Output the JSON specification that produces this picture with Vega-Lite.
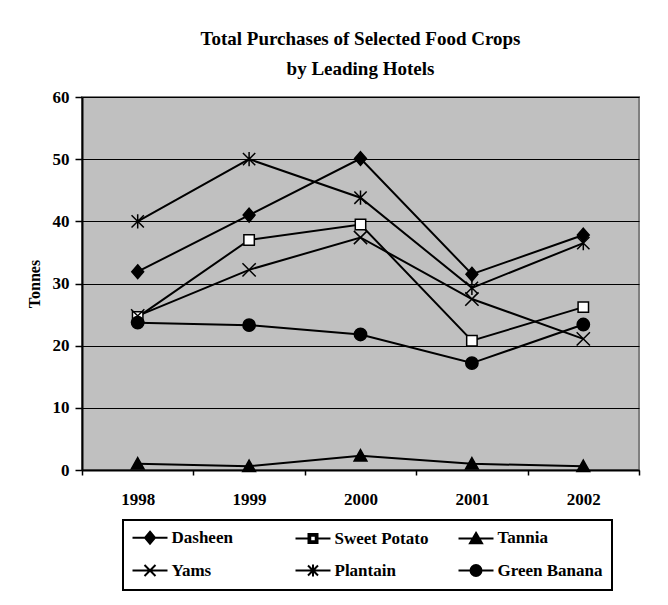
{
  "$schema": "https://vega.github.io/schema/vega-lite/v6.json",
  "width": 557,
  "height": 373,
  "autosize": {"type": "none"},
  "padding": {"left": 82, "top": 97, "right": 29, "bottom": 135},
  "background": "white",
  "title": {
    "text": ["Total Purchases of Selected Food Crops", "by Leading Hotels"],
    "font": "Liberation Serif",
    "fontSize": 19,
    "fontWeight": "bold",
    "color": "black",
    "lineHeight": 30,
    "anchor": "middle",
    "offset": 9
  },
  "data": {
    "values": [
      {"crop": "Dasheen", "year": "1998", "tonnes": 31.9},
      {"crop": "Dasheen", "year": "1999", "tonnes": 41.0},
      {"crop": "Dasheen", "year": "2000", "tonnes": 50.1},
      {"crop": "Dasheen", "year": "2001", "tonnes": 31.5},
      {"crop": "Dasheen", "year": "2002", "tonnes": 37.8},
      {"crop": "Sweet Potato", "year": "1998", "tonnes": 24.6},
      {"crop": "Sweet Potato", "year": "1999", "tonnes": 37.0},
      {"crop": "Sweet Potato", "year": "2000", "tonnes": 39.5},
      {"crop": "Sweet Potato", "year": "2001", "tonnes": 20.8},
      {"crop": "Sweet Potato", "year": "2002", "tonnes": 26.2},
      {"crop": "Tannia", "year": "1998", "tonnes": 1.0},
      {"crop": "Tannia", "year": "1999", "tonnes": 0.6},
      {"crop": "Tannia", "year": "2000", "tonnes": 2.3},
      {"crop": "Tannia", "year": "2001", "tonnes": 1.0},
      {"crop": "Tannia", "year": "2002", "tonnes": 0.6},
      {"crop": "Yams", "year": "1998", "tonnes": 24.8},
      {"crop": "Yams", "year": "1999", "tonnes": 32.2},
      {"crop": "Yams", "year": "2000", "tonnes": 37.4},
      {"crop": "Yams", "year": "2001", "tonnes": 27.5},
      {"crop": "Yams", "year": "2002", "tonnes": 21.1},
      {"crop": "Plantain", "year": "1998", "tonnes": 40.0},
      {"crop": "Plantain", "year": "1999", "tonnes": 50.0},
      {"crop": "Plantain", "year": "2000", "tonnes": 43.8},
      {"crop": "Plantain", "year": "2001", "tonnes": 29.3},
      {"crop": "Plantain", "year": "2002", "tonnes": 36.5},
      {"crop": "Green Banana", "year": "1998", "tonnes": 23.7},
      {"crop": "Green Banana", "year": "1999", "tonnes": 23.3},
      {"crop": "Green Banana", "year": "2000", "tonnes": 21.8},
      {"crop": "Green Banana", "year": "2001", "tonnes": 17.2},
      {"crop": "Green Banana", "year": "2002", "tonnes": 23.4}
    ]
  },
  "encoding": {
    "x": {
      "field": "year",
      "type": "ordinal",
      "scale": {"type": "band", "paddingInner": 0, "paddingOuter": 0},
      "axis": {
        "title": null,
        "labelAngle": 0,
        "tickBand": "extent",
        "grid": false,
        "tickSize": 5,
        "labelPadding": 16
      }
    },
    "y": {
      "field": "tonnes",
      "type": "quantitative",
      "scale": {"domain": [0, 60], "nice": false, "zero": true},
      "axis": {
        "title": "Tonnes",
        "values": [0, 10, 20, 30, 40, 50, 60],
        "grid": true,
        "gridColor": "black",
        "gridWidth": 1,
        "gridOpacity": 1,
        "tickSize": 7,
        "labelPadding": 6,
        "titlePadding": 10
      }
    }
  },
  "layer": [
    {
      "mark": {"type": "line", "color": "black", "strokeWidth": 2},
      "encoding": {"detail": {"field": "crop"}}
    },
    {
      "mark": {"type": "point", "filled": true, "stroke": "black", "strokeWidth": 1.5, "size": 90, "opacity": 1},
      "encoding": {
        "shape": {
          "field": "crop",
          "scale": {
            "domain": ["Dasheen", "Sweet Potato", "Tannia", "Yams", "Plantain", "Green Banana"],
            "range": [
              "M0,-1.45L1.25,0L0,1.45L-1.25,0Z",
              "M-1.1,-1.1H1.1V1.1H-1.1Z",
              "M0,-1.3L1.35,1.1L-1.35,1.1Z",
              "M-1.4,-1.4L1.4,1.4M-1.4,1.4L1.4,-1.4",
              "M-1.3,-1.3L1.3,1.3M-1.3,1.3L1.3,-1.3M0,-1.5V1.5",
              "M1.3,0A1.3,1.3,0,1,1,-1.3,0A1.3,1.3,0,1,1,1.3,0Z"
            ]
          },
          "legend": null
        },
        "fill": {
          "field": "crop",
          "scale": {
            "domain": ["Dasheen", "Sweet Potato", "Tannia", "Yams", "Plantain", "Green Banana"],
            "range": ["black", "white", "black", "black", "black", "black"]
          },
          "legend": null
        }
      }
    },
    {
      "transform": [{"filter": "false"}],
      "mark": {"type": "point", "filled": true, "color": "black", "strokeWidth": 2, "opacity": 1},
      "encoding": {
        "stroke": {
          "field": "crop",
          "scale": {
            "domain": ["Dasheen", "Sweet Potato", "Tannia", "Yams", "Plantain", "Green Banana"],
            "range": ["black", "black", "black", "black", "black", "black"]
          },
          "legend": {
            "title": null,
            "orient": "none",
            "legendX": 41,
            "legendY": 423,
            "direction": "horizontal",
            "columns": 3,
            "gridAlign": "all",
            "rowPadding": 12,
            "columnPadding": 14,
            "padding": 9,
            "strokeColor": "black",
            "symbolSize": 100,
            "symbolOffset": 9.5,
            "labelOffset": 13,
            "symbolStrokeWidth": 2,
            "labelFont": "Liberation Serif",
            "labelFontSize": 17,
            "labelFontWeight": "bold",
            "labelColor": "black",
            "labelLimit": 300
          }
        },
        "shape": {
          "field": "crop",
          "scale": {
            "domain": ["Dasheen", "Sweet Potato", "Tannia", "Yams", "Plantain", "Green Banana"],
            "range": [
              "M-3.5,0H3.5M0,-1.2L1,0L0,1.2L-1,0Z",
              "M-3.5,0H-0.9M0.9,0H3.5M-0.9,-0.9H0.9V0.9H-0.9ZM-0.55,-0.55V0.55H0.55V-0.55Z",
              "M-3.5,0H3.5M0,-1.1L1.2,0.95L-1.2,0.95Z",
              "M-3.5,0H3.5M-1.1,-1.1L1.1,1.1M-1.1,1.1L1.1,-1.1",
              "M-3.5,0H3.5M-1,-1L1,1M-1,1L1,-1M0,-1.2V1.2",
              "M-3.5,0H3.5M1.1,0A1.1,1.1,0,1,1,-1.1,0A1.1,1.1,0,1,1,1.1,0Z"
            ]
          },
          "legend": {
            "title": null,
            "orient": "none",
            "legendX": 41,
            "legendY": 423,
            "direction": "horizontal",
            "columns": 3,
            "gridAlign": "all",
            "rowPadding": 12,
            "columnPadding": 14,
            "padding": 9,
            "strokeColor": "black",
            "symbolSize": 100,
            "symbolOffset": 9.5,
            "labelOffset": 13,
            "symbolStrokeWidth": 2,
            "labelFont": "Liberation Serif",
            "labelFontSize": 17,
            "labelFontWeight": "bold",
            "labelColor": "black",
            "labelLimit": 300
          }
        }
      }
    }
  ],
  "resolve": {
    "scale": {"shape": "independent", "stroke": "independent"},
    "legend": {"shape": "independent", "stroke": "independent"}
  },
  "config": {
    "font": "Liberation Serif",
    "view": {"fill": "#c0c0c0", "stroke": "#808080", "strokeWidth": 2},
    "legend": {"strokeWidth": 2},
    "axis": {
      "domainColor": "black",
      "domainWidth": 2,
      "tickColor": "black",
      "tickWidth": 1.5,
      "labelFont": "Liberation Serif",
      "labelFontSize": 17,
      "labelFontWeight": "bold",
      "labelColor": "black",
      "titleFont": "Liberation Serif",
      "titleFontSize": 16,
      "titleFontWeight": "bold",
      "titleColor": "black"
    }
  }
}
